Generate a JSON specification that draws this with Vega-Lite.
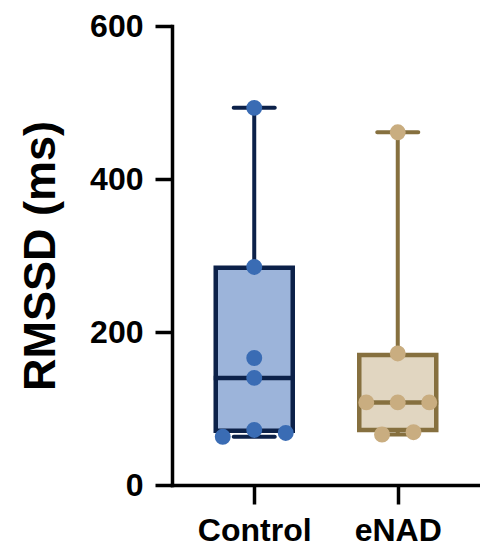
{
  "$schema": "https://vega.github.io/schema/vega-lite/v6.json",
  "width": 308,
  "height": 459,
  "autosize": {"type": "none"},
  "padding": {"left": 172, "top": 26, "right": 0, "bottom": 62},
  "background": "white",
  "config": {
    "view": {"stroke": null},
    "font": "Liberation Sans",
    "tick": {"opacity": 1}
  },
  "datasets": {
    "points": [
      {"group": "Control", "value": 493, "slot": 0},
      {"group": "Control", "value": 285, "slot": 0},
      {"group": "Control", "value": 166, "slot": 0},
      {"group": "Control", "value": 140, "slot": 0},
      {"group": "Control", "value": 72, "slot": 0},
      {"group": "Control", "value": 63, "slot": -2},
      {"group": "Control", "value": 68, "slot": 2},
      {"group": "eNAD", "value": 461, "slot": 0},
      {"group": "eNAD", "value": 172, "slot": 0},
      {"group": "eNAD", "value": 108, "slot": -2},
      {"group": "eNAD", "value": 108, "slot": 0},
      {"group": "eNAD", "value": 108, "slot": 2},
      {"group": "eNAD", "value": 66, "slot": -1},
      {"group": "eNAD", "value": 69, "slot": 1}
    ],
    "stats": [
      {"group": "Control", "min": 63, "q1": 71, "median": 140, "q3": 284, "max": 493},
      {"group": "eNAD", "min": 66, "q1": 72, "median": 108, "q3": 170, "max": 461}
    ]
  },
  "encoding": {
    "x": {
      "field": "group",
      "type": "nominal",
      "scale": {"type": "point", "domain": ["Control", "eNAD"], "padding": 0.573},
      "axis": {
        "title": null,
        "labelAngle": 0,
        "labelFont": "Liberation Sans",
        "labelFontWeight": "bold",
        "labelFontSize": 32,
        "labelColor": "black",
        "labelPadding": 11,
        "domainColor": "black",
        "domainWidth": 3.5,
        "domainCap": "square",
        "tickColor": "black",
        "tickWidth": 3.5,
        "tickSize": 19,
        "grid": false
      }
    }
  },
  "layer": [
    {
      "data": {"name": "stats"},
      "mark": {"type": "rule", "strokeWidth": 4},
      "encoding": {
        "y": {
          "field": "min",
          "type": "quantitative",
          "scale": {"domain": [0, 600], "nice": false},
          "axis": {
            "title": "RMSSD (ms)",
            "values": [0, 200, 400, 600],
            "grid": false,
            "titleFont": "Liberation Sans",
            "titleFontWeight": "bold",
            "titleFontSize": 45,
            "titleColor": "black",
            "titlePadding": 26,
            "labelFont": "Liberation Sans",
            "labelFontWeight": "bold",
            "labelFontSize": 32,
            "labelColor": "black",
            "labelPadding": 12,
            "domainColor": "black",
            "domainWidth": 3.5,
            "domainCap": "square",
            "tickColor": "black",
            "tickWidth": 3.5,
            "tickSize": 17
          }
        },
        "y2": {"field": "max"},
        "stroke": {
          "field": "group",
          "type": "nominal",
          "scale": {"domain": ["Control", "eNAD"], "range": ["#0c2149", "#86703f"]},
          "legend": null
        }
      }
    },
    {
      "data": {"name": "stats"},
      "mark": {"type": "tick", "thickness": 4, "size": 45, "cornerRadius": 2, "opacity": 1},
      "encoding": {
        "y": {"field": "max", "type": "quantitative"},
        "fill": {
          "field": "group",
          "type": "nominal",
          "scale": {"domain": ["Control", "eNAD"], "range": ["#0c2149", "#86703f"]},
          "legend": null
        }
      }
    },
    {
      "data": {"name": "stats"},
      "mark": {"type": "tick", "thickness": 4, "size": 45, "cornerRadius": 2, "opacity": 1},
      "encoding": {
        "y": {"field": "min", "type": "quantitative"},
        "fill": {
          "field": "group",
          "type": "nominal",
          "scale": {"domain": ["Control", "eNAD"], "range": ["#0c2149", "#86703f"]},
          "legend": null
        }
      }
    },
    {
      "data": {"name": "stats"},
      "mark": {"type": "bar", "size": 77, "strokeWidth": 4.5, "opacity": 1},
      "encoding": {
        "y": {"field": "q1", "type": "quantitative"},
        "y2": {"field": "q3"},
        "fill": {
          "field": "group",
          "type": "nominal",
          "scale": {"domain": ["Control", "eNAD"], "range": ["#9cb4da", "#e1d6c1"]},
          "legend": null
        },
        "stroke": {
          "field": "group",
          "type": "nominal",
          "scale": {"domain": ["Control", "eNAD"], "range": ["#0c2149", "#86703f"]},
          "legend": null
        }
      }
    },
    {
      "data": {"name": "stats"},
      "mark": {"type": "tick", "thickness": 4.5, "size": 81, "opacity": 1},
      "encoding": {
        "y": {"field": "median", "type": "quantitative"},
        "fill": {
          "field": "group",
          "type": "nominal",
          "scale": {"domain": ["Control", "eNAD"], "range": ["#0c2149", "#86703f"]},
          "legend": null
        }
      }
    },
    {
      "data": {"name": "points"},
      "mark": {"type": "circle", "size": 254, "opacity": 1},
      "encoding": {
        "y": {"field": "value", "type": "quantitative"},
        "xOffset": {
          "field": "slot",
          "type": "quantitative",
          "scale": {"domain": [-2, 2], "range": [-31.5, 31.5]}
        },
        "fill": {
          "field": "group",
          "type": "nominal",
          "scale": {"domain": ["Control", "eNAD"], "range": ["#3a6cb4", "#c9ad80"]},
          "legend": null
        }
      }
    }
  ],
  "resolve": {"scale": {"fill": "independent", "stroke": "independent"}}
}
